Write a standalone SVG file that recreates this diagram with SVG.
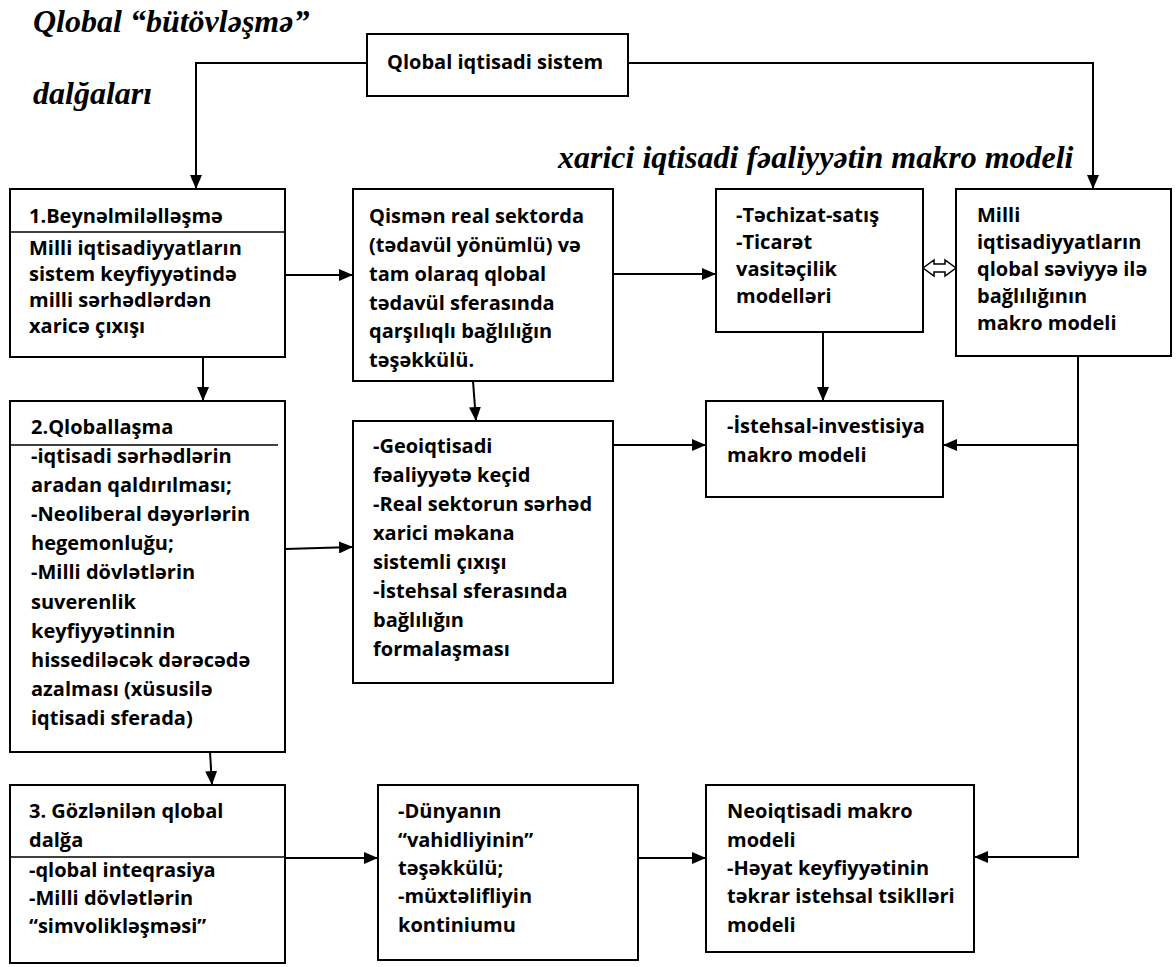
<svg xmlns="http://www.w3.org/2000/svg" width="1176" height="967" viewBox="0 0 1176 967">
<style>
.box{fill:#fff;stroke:#000;stroke-width:2}
.div{stroke:#000;stroke-width:1.5}
.t{font-family:"Open Sans","Noto Sans",sans-serif;font-weight:700;font-size:20px;fill:#000}
.ti{font-family:"Liberation Serif",serif;font-weight:700;font-style:italic;font-size:32px;fill:#000}
.c{fill:none;stroke:#000;stroke-width:2}
</style>
<defs>
<marker id="ah" viewBox="0 0 14 12" markerWidth="14" markerHeight="12" refX="14" refY="6" orient="auto" markerUnits="userSpaceOnUse">
<path d="M0,0 L14,6 L0,12 z" fill="#000"/>
</marker>
</defs>
<text class="ti" x="33" y="32">Qlobal “bütövləşmə”</text>
<text class="ti" x="33" y="104">dalğaları</text>
<text class="ti" x="558" y="168">xarici iqtisadi fəaliyyətin makro modeli</text>
<g id="top">
<rect class="box" x="367" y="34" width="261" height="62"/>
<text class="t" x="387" y="69">Qlobal iqtisadi sistem</text>
</g>
<g id="box1">
<rect class="box" x="10" y="189" width="275" height="168"/>
<line class="div" x1="10" y1="232" x2="285" y2="232"/>
<text class="t" x="29"><tspan x="29" y="223">1.Beynəlmiləlləşmə</tspan><tspan x="29" y="255">Milli iqtisadiyyatların</tspan><tspan x="29" y="281">sistem keyfiyyətində</tspan><tspan x="29" y="307">milli sərhədlərdən</tspan><tspan x="29" y="333">xaricə çıxışı</tspan></text>
</g>
<g id="boxQ">
<rect class="box" x="353" y="189" width="260" height="192"/>
<text class="t"><tspan x="369" y="223">Qismən real sektorda</tspan><tspan x="369" y="252">(tədavül yönümlü) və</tspan><tspan x="369" y="281">tam olaraq qlobal</tspan><tspan x="369" y="310">tədavül sferasında</tspan><tspan x="369" y="338">qarşılıqlı bağlılığın</tspan><tspan x="369" y="367">təşəkkülü.</tspan></text>
</g>
<g id="boxT">
<rect class="box" x="716" y="189" width="207" height="143"/>
<text class="t"><tspan x="736" y="222">-Təchizat-satış</tspan><tspan x="736" y="249">-Ticarət</tspan><tspan x="736" y="276">vasitəçilik</tspan><tspan x="736" y="303">modelləri</tspan></text>
</g>
<g id="boxM">
<rect class="box" x="956" y="189" width="215" height="167"/>
<text class="t"><tspan x="977" y="222">Milli</tspan><tspan x="977" y="249">iqtisadiyyatların</tspan><tspan x="977" y="276">qlobal səviyyə ilə</tspan><tspan x="977" y="303">bağlılığının</tspan><tspan x="977" y="330">makro modeli</tspan></text>
</g>
<g id="boxI">
<rect class="box" x="706" y="401" width="237" height="96"/>
<text class="t"><tspan x="727" y="433">-İstehsal-investisiya</tspan><tspan x="727" y="462">makro modeli</tspan></text>
</g>
<g id="box2">
<rect class="box" x="10" y="401" width="275" height="351"/>
<line class="div" x1="10" y1="445" x2="278" y2="445"/>
<text class="t"><tspan x="31" y="434">2.Qloballaşma</tspan><tspan x="31" y="463">-iqtisadi sərhədlərin</tspan><tspan x="31" y="492">aradan qaldırılması;</tspan><tspan x="31" y="521">-Neoliberal dəyərlərin</tspan><tspan x="31" y="550">hegemonluğu;</tspan><tspan x="31" y="579">-Milli dövlətlərin</tspan><tspan x="31" y="609">suverenlik</tspan><tspan x="31" y="638">keyfiyyətinnin</tspan><tspan x="31" y="667">hissediləcək dərəcədə</tspan><tspan x="31" y="696">azalması (xüsusilə</tspan><tspan x="31" y="725">iqtisadi sferada)</tspan></text>
</g>
<g id="boxG">
<rect class="box" x="353" y="421" width="260" height="262"/>
<text class="t"><tspan x="373" y="453">-Geoiqtisadi</tspan><tspan x="373" y="482">fəaliyyətə keçid</tspan><tspan x="373" y="511">-Real sektorun sərhəd</tspan><tspan x="373" y="540">xarici məkana</tspan><tspan x="373" y="569">sistemli çıxışı</tspan><tspan x="373" y="598">-İstehsal sferasında</tspan><tspan x="373" y="627">bağlılığın</tspan><tspan x="373" y="656">formalaşması</tspan></text>
</g>
<g id="box3">
<rect class="box" x="10" y="785" width="275" height="178"/>
<line class="div" x1="10" y1="857" x2="285" y2="857"/>
<text class="t"><tspan x="29" y="818">3. Gözlənilən qlobal</tspan><tspan x="29" y="847">dalğa</tspan><tspan x="29" y="877">-qlobal inteqrasiya</tspan><tspan x="29" y="905">-Milli dövlətlərin</tspan><tspan x="29" y="933">“simvolikləşməsi”</tspan></text>
</g>
<g id="boxD">
<rect class="box" x="378" y="785" width="260" height="175"/>
<text class="t"><tspan x="398" y="818">-Dünyanın</tspan><tspan x="398" y="847">“vahidliyinin”</tspan><tspan x="398" y="875">təşəkkülü;</tspan><tspan x="398" y="903">-müxtəlifliyin</tspan><tspan x="398" y="932">kontiniumu</tspan></text>
</g>
<g id="boxN">
<rect class="box" x="706" y="785" width="268" height="167"/>
<text class="t"><tspan x="727" y="818">Neoiqtisadi makro</tspan><tspan x="727" y="847">modeli</tspan><tspan x="727" y="875">-Həyat keyfiyyətinin</tspan><tspan x="727" y="903">təkrar istehsal tsiklləri</tspan><tspan x="727" y="932">modeli</tspan></text>
</g>
<g id="connectors">
<polyline class="c" points="367,63 196,63 196,189" marker-end="url(#ah)"/>
<polyline class="c" points="628,63 1093,63 1093,189" marker-end="url(#ah)"/>
<line class="c" x1="285" y1="275" x2="353" y2="275" marker-end="url(#ah)"/>
<line class="c" x1="613" y1="274" x2="716" y2="274" marker-end="url(#ah)"/>
<polygon points="923,268 934,260 934,264 945,264 945,260 956,268 945,276 945,272 934,272 934,276" fill="#fff" stroke="#000" stroke-width="1.5"/>
<line class="c" x1="203" y1="357" x2="203" y2="401" marker-end="url(#ah)"/>
<line class="c" x1="473" y1="381" x2="476" y2="421" marker-end="url(#ah)"/>
<line class="c" x1="823" y1="332" x2="823" y2="401" marker-end="url(#ah)"/>
<line class="c" x1="613" y1="445" x2="706" y2="445" marker-end="url(#ah)"/>
<polyline class="c" points="1078,356 1078,857 974,857" marker-end="url(#ah)"/>
<line class="c" x1="1078" y1="445" x2="943" y2="445" marker-end="url(#ah)"/>
<line class="c" x1="285" y1="549" x2="353" y2="547" marker-end="url(#ah)"/>
<line class="c" x1="210" y1="752" x2="212" y2="785" marker-end="url(#ah)"/>
<line class="c" x1="285" y1="858" x2="378" y2="858" marker-end="url(#ah)"/>
<line class="c" x1="638" y1="858" x2="706" y2="858" marker-end="url(#ah)"/>
</g>
</svg>
